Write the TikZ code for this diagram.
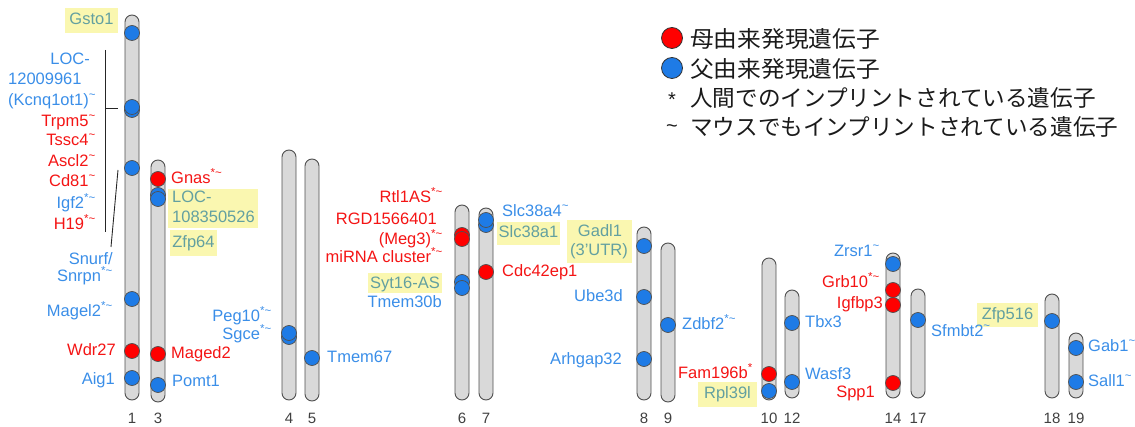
\documentclass[tikz,border=0pt]{standalone}
\usepackage{fontspec}
\setmainfont{Liberation Sans}
\newfontfamily\cjk{Noto Sans CJK JP}
\definecolor{chrfill}{HTML}{D9D9D9}
\definecolor{chrline}{HTML}{505050}
\definecolor{mred}{HTML}{FF0000}
\definecolor{pblue}{HTML}{1E7BE6}
\definecolor{tblue}{HTML}{3A8EE8}
\definecolor{tred}{HTML}{F41414}
\definecolor{hlbg}{HTML}{FAF7B0}
\definecolor{hltext}{HTML}{63A0A0}
\definecolor{legtext}{HTML}{1A1A1A}
\newcommand\tsup{\textsuperscript{\textasciitilde}}
\newcommand\stsup{\textsuperscript{*\textasciitilde}}
\newcommand\chrom[4]{\draw[chr] (#2-7,#3) rectangle (#2+7,#4); \coordinate (#1) at (#2,#3);}
\tikzset{
  lbl/.style={font=\fontsize{16.5}{19}\selectfont, inner sep=0pt, text height=11.8pt, text depth=3.6pt},
  L/.style={lbl, anchor=east},
  R/.style={lbl, anchor=west},
  C/.style={lbl, anchor=center},
  bl/.style={text=tblue},
  rd/.style={text=tred},
  hl/.style={text=hltext},
  hlbox/.style={fill=hlbg},
  chr/.style={fill=chrfill, draw=chrline, line width=0.9pt, rounded corners=7pt},
  dotb/.style={circle, inner sep=0pt, minimum size=15pt, fill=pblue, draw=chrline, line width=0.7pt},
  dotr/.style={circle, inner sep=0pt, minimum size=15pt, fill=mred, draw=chrline, line width=0.7pt},
  num/.style={font=\fontsize{15}{18}\selectfont, text=black!75, inner sep=0pt},
  brk/.style={draw=black!85, line width=0.9pt},
  leg/.style={font=\cjk\fontsize{22.6}{26}\selectfont, text=legtext, anchor=west, inner sep=0pt},
  legdot/.style={circle, inner sep=0pt, minimum size=21pt, draw=black!80, line width=0.8pt},
}
\begin{document}
\begin{tikzpicture}[x=1pt,y=-1pt]
\useasboundingbox (0,0) rectangle (1135,427);
% chromosomes
\chrom{c1}{132}{15}{400}
\chrom{c3}{158}{160}{402}
\chrom{c4}{289}{150}{400}
\chrom{c5}{312}{159}{401}
\chrom{c6}{462}{205}{400}
\chrom{c7}{486}{208}{400}
\chrom{c8}{644}{227}{400}
\chrom{c9}{668}{243}{402}
\chrom{c10}{769}{258}{400}
\chrom{c12}{792}{290}{398}
\chrom{c14}{893}{253}{398}
\chrom{c17}{918}{289}{398}
\chrom{c18}{1052}{294}{398}
\chrom{c19}{1076}{333}{398}
% numbers
\node[num] (n1) at (132,418) {1};
\node[num] (n3) at (158,418) {3};
\node[num] (n4) at (289,418) {4};
\node[num] (n5) at (312,418) {5};
\node[num] (n6) at (462,418) {6};
\node[num] (n7) at (486,418) {7};
\node[num] (n8) at (644,418) {8};
\node[num] (n9) at (668,418) {9};
\node[num] (n10) at (769,418) {10};
\node[num] (n12) at (792,418) {12};
\node[num] (n14) at (893,418) {14};
\node[num] (n17) at (918,418) {17};
\node[num] (n18) at (1052,418) {18};
\node[num] (n19) at (1076,418) {19};
% dots chr1
\node[dotb] (d1a) at (132,33) {};
\node[dotb] (d1b2) at (132,110) {};
\node[dotb] (d1b) at (132,107) {};
\node[dotb] (d1c) at (132,168) {};
\node[dotb] (d1d) at (132,299) {};
\node[dotr] (d1e) at (132,351) {};
\node[dotb] (d1f) at (132,378) {};
% chr3
\node[dotr] (d3a) at (158,179) {};
\node[dotb] (d3b2) at (158,195) {};
\node[dotb] (d3b) at (158,199) {};
\node[dotr] (d3c) at (158,354) {};
\node[dotb] (d3d) at (158,385) {};
% chr4, chr5
\node[dotb] (d4b) at (289,337) {};
\node[dotb] (d4a) at (289,333) {};
\node[dotb] (d5a) at (312,358) {};
% chr6
\node[dotr] (d6a2) at (462,235) {};
\node[dotr] (d6a) at (462,239) {};
\node[dotb] (d6b2) at (462,282) {};
\node[dotb] (d6b) at (462,288) {};
% chr7
\node[dotb] (d7a2) at (486,225) {};
\node[dotb] (d7a) at (486,220) {};
\node[dotr] (d7b) at (486,272) {};
% chr8, chr9
\node[dotb] (d8a) at (644,246) {};
\node[dotb] (d8b) at (644,297) {};
\node[dotb] (d8c) at (644,359) {};
\node[dotb] (d9a) at (668,325) {};
% chr10, chr12
\node[dotr] (d10a) at (769,374) {};
\node[dotb] (d10b) at (769,391) {};
\node[dotb] (d12a) at (792,323) {};
\node[dotb] (d12b) at (792,382) {};
% chr14, 17, 18, 19
\node[dotb] (d14a) at (893,264) {};
\node[dotr] (d14b) at (893,290) {};
\node[dotr] (d14c) at (893,305) {};
\node[dotr] (d14d) at (893,383) {};
\node[dotb] (d17a) at (918,320) {};
\node[dotb] (d18a) at (1052,321) {};
\node[dotb] (d19a) at (1076,348) {};
\node[dotb] (d19b) at (1076,382) {};
% highlight boxes
\fill[hlbox] (65,8) rectangle (118,33);
\fill[hlbox] (168,189) rectangle (258,228);
\fill[hlbox] (170,230) rectangle (217,256);
\fill[hlbox] (368,273) rectangle (442,293);
\fill[hlbox] (497,222) rectangle (560,245);
\fill[hlbox] (567,220) rectangle (632,263);
\fill[hlbox] (698,382) rectangle (757,407);
\fill[hlbox] (977,303) rectangle (1038,327);
% chr1 labels
\node[C,hl] (lGsto1) at (91.5,20.5) {Gsto1};
\node[L,bl] (lLOCa) at (90,60) {LOC-};
\node[R,bl] (lLOCb) at (8,80) {12009961};
\node[R,bl] (lLOCc) at (8,101) {(Kcnq1ot1)\tsup};
\node[L,rd] (lTrpm5) at (96,122) {Trpm5\tsup};
\node[L,rd] (lTssc4) at (96,141) {Tssc4\tsup};
\node[L,rd] (lAscl2) at (96,162) {Ascl2\tsup};
\node[L,rd] (lCd81) at (96,182) {Cd81\tsup};
\node[L,bl] (lIgf2) at (96,204) {Igf2\stsup};
\node[L,rd] (lH19) at (96,225) {H19\stsup};
\node[L,bl] (lSnurf) at (113,260) {Snurf/};
\node[L,bl] (lSnrpn) at (113,277) {Snrpn\stsup};
\node[L,bl] (lMagel2) at (113,312) {Magel2\stsup};
\node[L,rd] (lWdr27) at (116,351) {Wdr27};
\node[L,bl] (lAig1) at (115,380) {Aig1};
\coordinate (bT) at (105,50);
\coordinate (bB) at (105,232);
\coordinate (bM) at (105,108);
\coordinate (bK) at (118,108);
\coordinate (sA) at (118,170);
\coordinate (sB) at (111,247);
\draw[brk] (bT) -- (bB);
\draw[brk] (bM) -- (bK);
\draw[brk] (sA) -- (sB);
% chr3 labels
\node[R,rd] (lGnas) at (171,179) {Gnas\stsup};
\node[R,hl] (lLOC2a) at (172,198) {LOC-};
\node[R,hl] (lLOC2b) at (172,218) {108350526};
\node[C,hl] (lZfp64) at (193.5,243) {Zfp64};
\node[R,rd] (lMaged2) at (171,354) {Maged2};
\node[R,bl] (lPomt1) at (172,382) {Pomt1};
% chr4, chr5
\node[L,bl] (lPeg10) at (272,317) {Peg10\stsup};
\node[L,bl] (lSgce) at (272,335) {Sgce\stsup};
\node[R,bl] (lTmem67) at (327,358) {Tmem67};
% chr6, chr7
\node[L,rd] (lRtl1AS) at (443,198) {Rtl1AS\stsup};
\node[L,rd] (lRGD) at (437,220) {RGD1566401};
\node[L,rd] (lMeg3) at (443,240) {(Meg3)\stsup};
\node[L,rd] (lmiRNA) at (443,258) {miRNA cluster\stsup};
\node[C,hl] (lSyt16) at (405,284) {Syt16-AS};
\node[L,bl] (lTmem30b) at (442,303) {Tmem30b};
\node[R,bl] (lSlc38a4) at (502,212) {Slc38a4\tsup};
\node[C,hl] (lSlc38a1) at (528.5,233.5) {Slc38a1};
\node[R,rd] (lCdc42ep1) at (502,272) {Cdc42ep1};
% chr8, chr9
\node[C,hl] (lGadl1a) at (600,232) {Gadl1};
\node[C,hl] (lGadl1b) at (599,251) {(3'UTR)};
\node[L,bl] (lUbe3d) at (623,297) {Ube3d};
\node[L,bl] (lArhgap32) at (622,360) {Arhgap32};
\node[R,bl] (lZdbf2) at (682,325) {Zdbf2\stsup};
% chr10, chr12
\node[L,rd] (lFam196b) at (753,374) {Fam196b\textsuperscript{*}};
\node[C,hl] (lRpl39l) at (727.5,394.5) {Rpl39l};
\node[R,bl] (lTbx3) at (805,323) {Tbx3};
\node[R,bl] (lWasf3) at (805,375) {Wasf3};
% chr14, 17, 18, 19
\node[L,bl] (lZrsr1) at (880,252) {Zrsr1\tsup};
\node[L,rd] (lGrb10) at (880,283) {Grb10\stsup};
\node[L,rd] (lIgfbp3) at (883,304) {Igfbp3};
\node[L,rd] (lSpp1) at (875,393) {Spp1};
\node[R,bl] (lSfmbt2) at (931,332) {Sfmbt2\tsup};
\node[C,hl] (lZfp516) at (1007.5,315) {Zfp516};
\node[R,bl] (lGab1) at (1088,347) {Gab1\tsup};
\node[R,bl] (lSall1) at (1088,382) {Sall1\tsup};
% legend
\node[legdot, fill=mred] (kr) at (672,38) {};
\node[leg] (tr) at (690,39) {\scalebox{1.05}[1]{母由来発現遺伝子}};
\node[legdot, fill=pblue] (kb) at (672,68) {};
\node[leg] (tb) at (690,69) {\scalebox{1.05}[1]{父由来発現遺伝子}};
\node[font=\fontsize{20}{24}\selectfont, text=legtext, inner sep=0pt] (ks) at (672,100) {*};
\node[leg] (ts) at (690,98) {人間でのインプリントされている遺伝子};
\node[font=\fontsize{20}{24}\selectfont, text=legtext, inner sep=0pt] (kt) at (672,129) {\textasciitilde};
\node[leg] (tt) at (690,127) {マウスでもインプリントされている遺伝子};
\end{tikzpicture}
\end{document}
